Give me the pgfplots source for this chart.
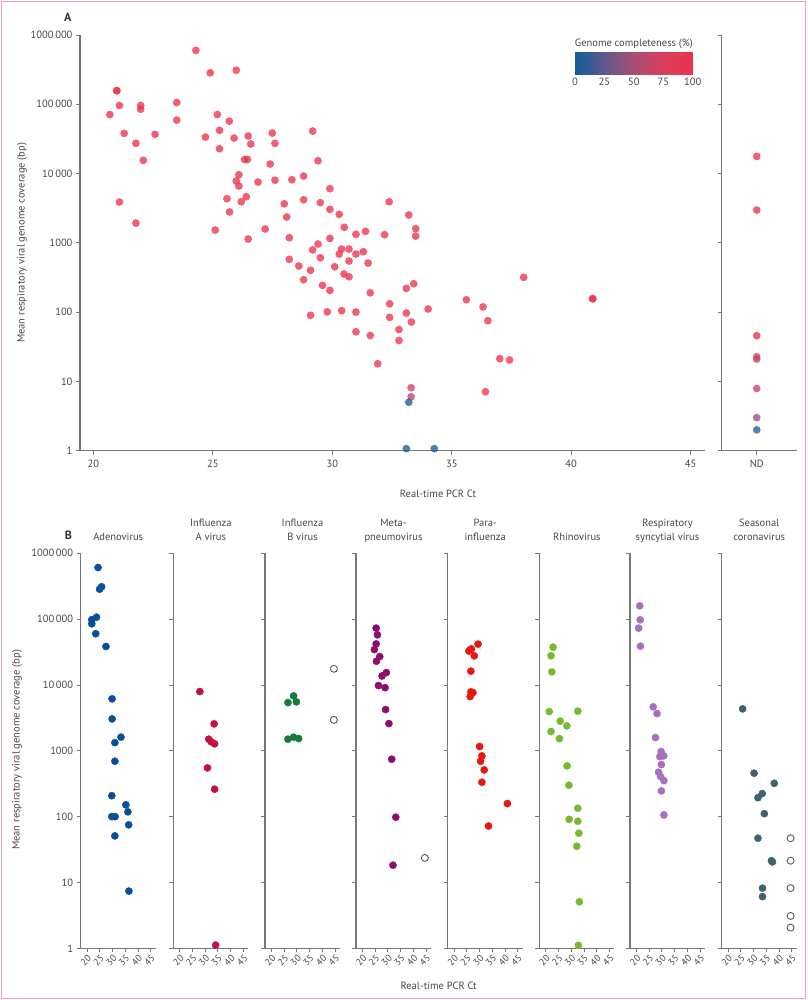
\documentclass[border=0pt]{standalone}
\usepackage{fontspec}
\setmainfont{PT Sans}
\usepackage{pgfplots}
\usepackage{pgfplotstable}
\pgfplotsset{compat=1.18}

\definecolor{axgray}{RGB}{120,120,120}
\definecolor{txtgray}{RGB}{70,70,70}
\definecolor{adeno}{RGB}{8,78,152}
\definecolor{flua}{RGB}{196,16,64}
\definecolor{flub}{RGB}{22,122,60}
\definecolor{metac}{RGB}{140,12,112}
\definecolor{para}{RGB}{232,22,18}
\definecolor{rhino}{RGB}{118,186,48}
\definecolor{rsv}{RGB}{166,112,190}
\definecolor{scov}{RGB}{62,98,110}
\definecolor{bordercol}{RGB}{236,160,190}

\pgfplotsset{colormap={gc}{rgb255=(16,94,156) rgb255=(95,88,140) rgb255=(170,78,118) rgb255=(218,64,92) rgb255=(236,50,76)}}

\newcommand{\lbfont}{\fontsize{10.5}{12}\selectfont}
\newcommand{\smfont}{\fontsize{9.5}{11}\selectfont}

\pgfplotstableread{
x y c
20.69 71000 100
20.98 157000 100
20.98 157000 100
21.09 96000 100
21.98 96000 100
21.98 85000 100
23.49 106000 100
23.49 59000 100
21.29 38000 100
22.58 36800 100
21.78 27300 100
22.09 15500 100
21.09 3880 100
21.78 1930 100
24.29 600000 100
24.89 285000 100
25.98 310000 100
25.19 71000 100
25.69 57000 100
25.28 42000 100
24.69 33600 100
25.89 32500 100
25.28 22800 100
26.48 34800 100
26.59 26700 100
26.33 16000 100
26.45 16000 100
27.49 38400 100
27.60 27300 100
27.40 13700 100
29.18 41000 100
29.40 15300 100
26.09 9600 100
25.98 7800 100
26.09 6600 100
26.89 7540 100
27.60 8000 100
28.31 8140 100
28.80 9200 100
29.90 6040 100
25.59 4330 100
26.40 4630 100
26.19 3920 100
25.70 2790 100
27.99 3660 100
28.80 4190 100
29.50 3800 100
29.90 3040 100
30.29 2575 100
28.09 2357 100
32.38 3920 100
33.20 2520 100
33.49 1600 100
33.49 1250 100
30.50 1675 100
30.99 1327 100
31.39 1465 100
32.19 1310 100
25.10 1530 100
27.19 1583 100
26.48 1135 100
28.20 1185 100
29.90 1160 100
29.40 961 100
29.18 790 100
28.20 578 100
28.60 462 100
29.09 401 100
29.50 609 100
30.10 452 100
30.29 689 100
30.39 814 100
30.70 814 100
30.70 546 100
30.99 689 100
31.30 744 100
31.50 511 100
30.49 355 100
30.70 324 100
28.80 294 100
29.59 243 100
29.90 206 100
31.59 190 100
33.10 220 100
33.41 257 100
32.40 132 100
32.40 84 100
33.10 97 100
33.31 72 100
32.79 56 100
32.79 39 100
29.09 90 100
29.79 101 100
30.39 105 100
30.99 100 100
30.99 52 100
31.59 46 100
31.90 18 100
33.30 8.1 70
33.30 6.0 60
33.20 5.0 4
33.10 1.07 3
38.01 318 100
40.90 156 100
40.90 156 100
35.61 151 100
36.31 119 100
36.51 75 100
34.01 111 100
37.01 21.3 100
37.42 20.4 100
36.41 7.1 100
34.27 1.07 3
}\dataA

\pgfplotstableread{
x y c
0 17700 100
0 2970 100
0 45.7 100
0 22.7 72
0 21 68
0 7.9 62
0 3.0 45
0 2.0 8
}\dataND

\begin{document}
\begin{tikzpicture}
\useasboundingbox (0pt,0pt) rectangle (807pt,1000pt);
\draw[bordercol, line width=1.2pt] (1.5pt,1.5pt) rectangle (805.5pt,998.5pt);

% ---------- Panel A ----------
\begin{axis}[at={(80pt,549.3pt)}, anchor=south west, scale only axis,
  width=625pt, height=415.7pt, xmin=19.44, xmax=45.6,
  ymode=log, ymin=1, ymax=1000000,
  axis x line*=bottom, axis y line*=left,
  axis line style={axgray, line width=1.2pt},
  tick style={axgray, line width=0.9pt},
  tick align=outside, major tick length=4pt,
  yminorticks=false, xminorticks=false,
  xtick={20,25,30,35,40,45}, xticklabels={20,25,30,35,40,45},
  ytick={1,10,100,1000,10000,100000,1000000},
  yticklabels={1,10,100,1000,10\,000,100\,000,1000\,000},
  tick label style={font=\lbfont, text=txtgray},
  xticklabel style={yshift=-2pt},
  clip=false,
  colormap name=gc, point meta min=0, point meta max=100]
\addplot[scatter, only marks, mark=*, mark size=3.9pt, scatter src=explicit,
  scatter/use mapped color={draw=mapped color, fill=mapped color},
  mark options={draw opacity=0, fill opacity=0.78}]
  table[x=x, y=y, meta=c] {\dataA};
\end{axis}

% colour bar
\begin{axis}[at={(575pt,925pt)}, anchor=south west, scale only axis,
  width=117.7pt, height=23.3pt, xmin=0, xmax=100, ymin=0, ymax=1,
  axis line style={draw=none}, xtick={0,25,50,75,100},
  xticklabels={0,25,50,75,100}, ytick=\empty,
  xtick style={draw=none}, enlargelimits=false,
  tick label style={font=\lbfont, text=txtgray},
  colormap name=gc, point meta min=0, point meta max=100]
\addplot[surf, shader=interp, mesh/cols=2, point meta=explicit]
  table[meta=c] {
x y c
0 0 0
100 0 100
0 1 0
100 1 100
};
\end{axis}

\begin{axis}[at={(721.7pt,549.3pt)}, anchor=south west, scale only axis,
  width=75pt, height=415.7pt, xmin=-0.467, xmax=0.533,
  ymode=log, ymin=1, ymax=1000000,
  axis x line*=bottom, axis y line*=left,
  axis line style={axgray, line width=1.2pt},
  tick style={axgray, line width=0.9pt},
  tick align=outside, major tick length=4pt,
  yminorticks=false, xminorticks=false,
  xtick={0}, xticklabels={ND},
  ytick={1,10,100,1000,10000,100000,1000000}, yticklabels={,,},
  tick label style={font=\lbfont, text=txtgray},
  xticklabel style={yshift=-2pt},
  clip=false,
  colormap name=gc, point meta min=0, point meta max=100]
\addplot[scatter, only marks, mark=*, mark size=3.9pt, scatter src=explicit,
  scatter/use mapped color={draw=mapped color, fill=mapped color},
  mark options={draw opacity=0, fill opacity=0.78}]
  table[x=x, y=y, meta=c] {\dataND};
\end{axis}

\node[anchor=base, font=\lbfont, text=txtgray] at (633.9pt,953pt) {Genome completeness (\%)};
\node[font=\bfseries\fontsize{12}{14}\selectfont, text=black!80] at (67.7pt,982.7pt) {A};
\node[rotate=90, font=\lbfont, text=txtgray] at (22pt,757pt) {Mean respiratory viral genome coverage (bp)};
\node[anchor=base, font=\lbfont, text=txtgray] at (438pt,502pt) {Real-time PCR Ct};

% ---------- Panel B frames ----------
\begin{axis}[at={(80.7pt,51.7pt)}, anchor=south west, scale only axis,
  width=75pt, height=395pt, xmin=17.5, xmax=46.9,
  ymode=log, ymin=1, ymax=1000000,
  axis x line*=bottom, axis y line*=left,
  axis line style={axgray, line width=1.2pt},
  tick style={axgray, line width=0.9pt},
  tick align=outside, major tick length=4pt,
  yminorticks=false, xminorticks=false,
  xtick={20,25,30,35,40,45}, xticklabels={20,25,30,35,40,45},
  ytick={1,10,100,1000,10000,100000,1000000},
  yticklabels={1,10,100,1000,10\,000,100\,000,1000\,000},
  tick label style={font=\lbfont, text=txtgray},
  xticklabel style={rotate=45, anchor=north east, font=\smfont, inner sep=1pt},
  clip=false]
\addplot[only marks, mark=*, mark size=3.6pt, adeno, mark options={draw=none}] coordinates {(24.3,608000) (24.9,285000) (25.7,310000) (23.7,107000) (21.85,98000) (21.85,85000) (23.4,60000) (27.4,38400) (29.8,6150) (29.8,3050) (30.9,1330) (33.3,1610) (30.9,695) (29.7,208) (29.7,100) (31.0,100) (30.9,51) (35.2,151) (36.0,118) (36.3,75) (36.4,7.4)};
\end{axis}

\foreach \px in {173.3,265,356,447.7,539.3,630,721.7}{
\begin{axis}[at={(\px pt,51.7pt)}, anchor=south west, scale only axis,
  width=75pt, height=395pt, xmin=17.5, xmax=46.9,
  ymode=log, ymin=1, ymax=1000000,
  axis x line*=bottom, axis y line*=left,
  axis line style={axgray, line width=1.2pt},
  tick style={axgray, line width=0.9pt},
  tick align=outside, major tick length=4pt,
  yminorticks=false, xminorticks=false,
  xtick={20,25,30,35,40,45}, xticklabels={20,25,30,35,40,45},
  ytick={1,10,100,1000,10000,100000,1000000},
  yticklabels={,,},
  tick label style={font=\lbfont, text=txtgray},
  xticklabel style={rotate=45, anchor=north east, font=\smfont, inner sep=1pt},
  clip=false]
\addplot[draw=none] coordinates {(20,1)};
\end{axis}
}

\begin{axis}[at={(173.3pt,51.7pt)}, anchor=south west, scale only axis,
  width=75pt, height=395pt, xmin=17.5, xmax=46.9, ymode=log, ymin=1, ymax=1000000,
  hide axis, clip=false]
\addplot[only marks, mark=*, mark size=3.6pt, flua, mark options={draw=none}] coordinates {(27.9,7940) (33.5,2565) (31.4,1500) (32.4,1365) (33.7,1275) (30.9,550) (33.7,261) (34.1,1.12)};
\end{axis}

\begin{axis}[at={(265pt,51.7pt)}, anchor=south west, scale only axis,
  width=75pt, height=395pt, xmin=17.5, xmax=46.9, ymode=log, ymin=1, ymax=1000000,
  hide axis, clip=false]
\addplot[only marks, mark=*, mark size=3.6pt, flub, mark options={draw=none}] coordinates {(26.5,5400) (28.7,6820) (29.8,5540) (26.5,1500) (28.7,1610) (30.7,1535)};
\addplot[only marks, mark=o, mark size=3.5pt, mark options={draw=black!65, fill=white, line width=0.9pt}] coordinates {(44.5,17600) (44.5,2950)};
\end{axis}

\begin{axis}[at={(356pt,51.7pt)}, anchor=south west, scale only axis,
  width=75pt, height=395pt, xmin=17.5, xmax=46.9, ymode=log, ymin=1, ymax=1000000,
  hide axis, clip=false]
\addplot[only marks, mark=*, mark size=3.6pt, metac, mark options={draw=none}] coordinates {(25.4,73000) (25.9,57700) (25.4,42000) (24.7,34500) (26.8,27000) (25.5,22900) (27.7,13700) (29.4,15400) (26.3,9800) (28.9,9100) (29.1,4230) (30.4,2590) (31.5,745) (33.1,98) (32.0,18.3)};
\addplot[only marks, mark=o, mark size=3.5pt, mark options={draw=black!65, fill=white, line width=0.9pt}] coordinates {(44.5,23.6)};
\end{axis}

\begin{axis}[at={(447.7pt,51.7pt)}, anchor=south west, scale only axis,
  width=75pt, height=395pt, xmin=17.5, xmax=46.9, ymode=log, ymin=1, ymax=1000000,
  hide axis, clip=false]
\addplot[only marks, mark=*, mark size=3.6pt, para, mark options={draw=none}] coordinates {(29.4,41700) (26.3,34100) (26.8,35300) (25.8,32700) (27.9,27700) (26.6,16200) (26.6,7850) (27.4,7660) (26.3,6670) (30.0,1160) (30.9,836) (30.4,695) (31.8,512) (30.9,333) (40.9,158) (33.5,72)};
\end{axis}

\begin{axis}[at={(539.3pt,51.7pt)}, anchor=south west, scale only axis,
  width=75pt, height=395pt, xmin=17.5, xmax=46.9, ymode=log, ymin=1, ymax=1000000,
  hide axis, clip=false]
\addplot[only marks, mark=*, mark size=3.6pt, rhino, mark options={draw=none}] coordinates {(22.9,37500) (22.1,27700) (22.4,15800) (21.4,3940) (32.6,4000) (25.7,2820) (28.3,2390) (22.1,1960) (25.4,1530) (28.4,590) (29.1,300) (32.6,134) (29.2,91) (32.6,85) (33.0,56) (32.2,35.5) (33.2,5.1) (32.8,1.11)};
\end{axis}

\begin{axis}[at={(630pt,51.7pt)}, anchor=south west, scale only axis,
  width=75pt, height=395pt, xmin=17.5, xmax=46.9, ymode=log, ymin=1, ymax=1000000,
  hide axis, clip=false]
\addplot[only marks, mark=*, mark size=3.6pt, rsv, mark options={draw=none}] coordinates {(21.3,159000) (21.5,97700) (20.9,73000) (21.6,38900) (26.6,4650) (28.1,3670) (27.5,1585) (29.7,973) (30.7,836) (29.2,817) (29.8,617) (28.7,473) (29.5,405) (30.8,352) (29.8,246) (30.8,106)};
\end{axis}

\begin{axis}[at={(721.7pt,51.7pt)}, anchor=south west, scale only axis,
  width=75pt, height=395pt, xmin=17.5, xmax=46.9, ymode=log, ymin=1, ymax=1000000,
  hide axis, clip=false]
\addplot[only marks, mark=*, mark size=3.6pt, scov, mark options={draw=none}] coordinates {(25.7,4330) (30.2,457) (38.1,321) (31.7,194) (33.4,224) (34.2,111) (31.7,47) (37.0,21.4) (37.4,20.5) (33.5,8.2) (33.5,6.1)};
\addplot[only marks, mark=o, mark size=3.5pt, mark options={draw=black!65, fill=white, line width=0.9pt}] coordinates {(44.5,47) (44.5,21.4) (44.5,8.2) (44.5,3.1) (44.5,2.06)};
\end{axis}

\node[font=\bfseries\fontsize{12}{14}\selectfont, text=black!80] at (68.3pt,465pt) {B};
\node[rotate=90, font=\lbfont, text=txtgray] at (17pt,250pt) {Mean respiratory viral genome coverage (bp)};
\node[anchor=base, font=\lbfont, text=txtgray] at (438.7pt,10pt) {Real-time PCR Ct};

\begin{scope}[every node/.style={anchor=base, font=\lbfont, text=txtgray, inner sep=0pt}]
\node at (118.2pt,459.5pt) {Adenovirus};
\node at (210.8pt,473pt) {Influenza};
\node at (210.8pt,459.5pt) {A virus};
\node at (302.5pt,473pt) {Influenza};
\node at (302.5pt,459.5pt) {B virus};
\node at (393.5pt,473pt) {Meta-};
\node at (393.5pt,459.5pt) {pneumovirus};
\node at (485.2pt,473pt) {Para-};
\node at (485.2pt,459.5pt) {influenza};
\node at (576.8pt,459.5pt) {Rhinovirus};
\node at (667.5pt,473pt) {Respiratory};
\node at (667.5pt,459.5pt) {syncytial virus};
\node at (759.2pt,473pt) {Seasonal};
\node at (759.2pt,459.5pt) {coronavirus};
\end{scope}
\end{tikzpicture}
\end{document}
